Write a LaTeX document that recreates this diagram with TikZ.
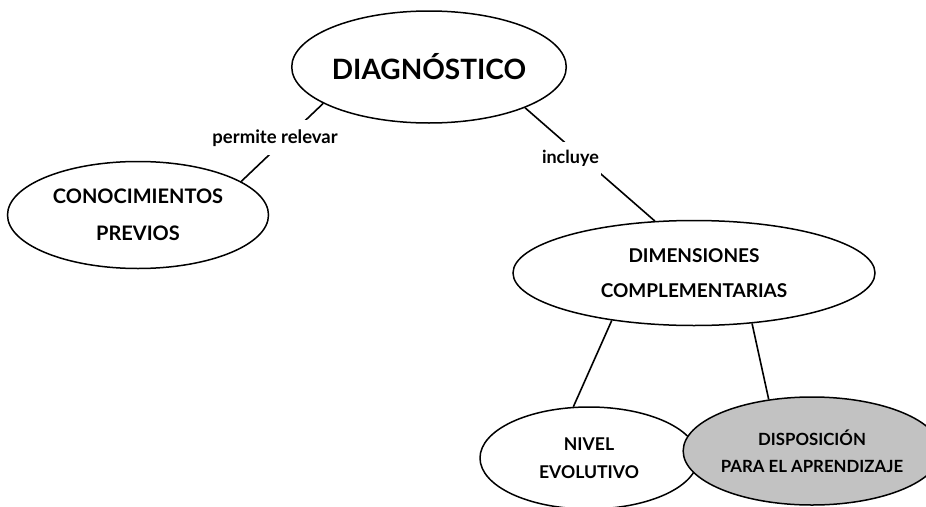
\documentclass[tikz,border=0pt]{standalone}
\usepackage{fontspec}
\setmainfont{Lato}
\usetikzlibrary{shapes.geometric}

\tikzset{
  concept/.style={draw=black, ellipse, line width=1.5pt, inner sep=0pt,
    align=center, font=\bfseries},
  link/.style={line width=1.6pt},
  linklabel/.style={fill=white, inner xsep=2pt, inner ysep=9pt, font=\bfseries}
}

\begin{document}
\begin{tikzpicture}[x=1pt, y=-1pt]
  \useasboundingbox (0,0) rectangle (926,506);

  % concepts
  \node[concept, minimum width=272pt, minimum height=112pt,
        font=\bfseries\fontsize{28}{30}\selectfont]
    (diag) at (429,67) {DIAGNÓSTICO};
  \node[concept, minimum width=261pt, minimum height=107pt,
        font=\bfseries\fontsize{20}{37}\selectfont]
    (conoc) at (138,215) {CONOCIMIENTOS\\PREVIOS};
  \node[concept, minimum width=362pt, minimum height=105pt,
        font=\bfseries\fontsize{19}{35}\selectfont]
    (dims) at (694,273) {DIMENSIONES\\COMPLEMENTARIAS};
  \node[concept, minimum width=218pt, minimum height=102pt,
        font=\bfseries\fontsize{17.6}{28}\selectfont]
    (nivel) at (589,458) {NIVEL\\EVOLUTIVO};
  \node[concept, fill=black!24, minimum width=225pt, minimum height=108pt,
        font=\bfseries\fontsize{16.8}{27}\selectfont]
    (disp) at (812,451) {DISPOSICIÓN\\PARA EL APRENDIZAJE};

  % connectors with their linking words
  \draw[link] (diag.199) -- node[linklabel, pos=0.44, xshift=-12pt,
      font=\bfseries\fontsize{18.5}{20}\selectfont] {permite relevar} (conoc.18);
  \draw[link] (diag.337) -- node[linklabel, pos=0.45, xshift=-13pt,
      font=\bfseries\fontsize{18}{20}\selectfont] {incluye} (dims.127);
  \draw[link] (dims.210) -- (nivel.107);
  \draw[link] (dims.319) -- (disp.130);
\end{tikzpicture}
\end{document}
